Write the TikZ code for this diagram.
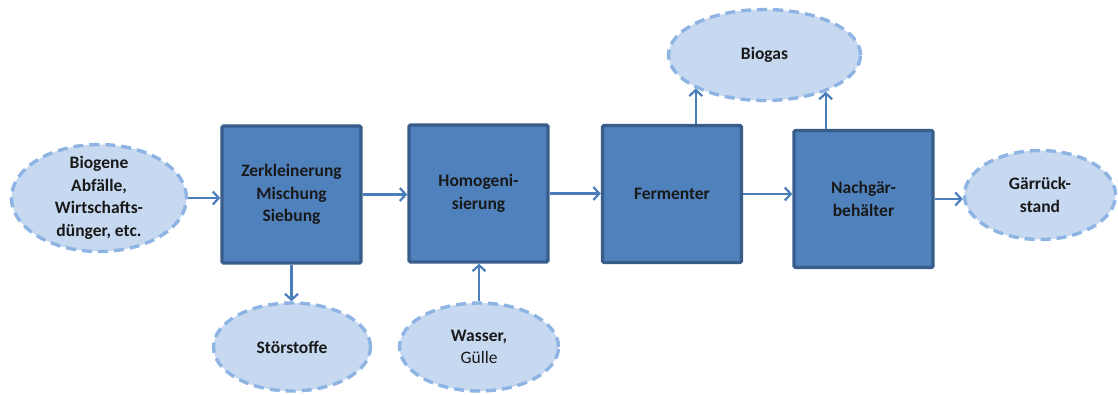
\documentclass[tikz,border=0pt]{standalone}
\usepackage{fontspec}
\setmainfont{Carlito}
\usetikzlibrary{shapes.geometric,arrows.meta}
\definecolor{boxfill}{HTML}{4F81BD}
\definecolor{boxline}{HTML}{385D8A}
\definecolor{ellfill}{HTML}{C6D9F1}
\definecolor{ellline}{HTML}{8EB4E3}
\definecolor{arr}{HTML}{4A7EBB}
\begin{document}
\begin{tikzpicture}[x=1pt,y=-1pt,
  proc/.style={draw=boxline, fill=boxfill, line width=3.4pt, rounded corners=1.5pt,
    minimum width=139pt, minimum height=137pt, inner sep=0pt},
  io/.style={ellipse, draw=ellline, fill=ellfill, line width=3.4pt,
    dash pattern=on 10pt off 6pt, inner sep=0pt},
  txt/.style={font=\fontsize{17.5}{22.5}\selectfont\bfseries, align=center, text=black!90, inner sep=0pt},
  flow/.style={draw=arr, line width=2.4pt, -{Straight Barb[length=6pt,width=13pt,line width=2.2pt]}}]
\useasboundingbox (0,0) rectangle (1118,394);

% process boxes
\node[proc] (b1) at (291.5,194.5) {};
\node[proc] (b2) at (478.5,193.5) {};
\node[proc] (b3) at (672,194) {};
\node[proc] (b4) at (863.5,199) {};
\node[txt] (t1) at (b1) {Zerkleinerung\\Mischung\\Siebung};
\node[txt] (t2) at (b2) {Homogeni-\\sierung};
\node[txt] (t3) at (b3) {Fermenter};
\node[txt] (t4) at (b4) {Nachgär-\\behälter};

% ellipses
\node[io, minimum width=175pt, minimum height=107pt] (src) at (99,198) {};
\node[txt] (tsrc) at (src) {Biogene\\Abfälle,\\Wirtschafts-\\dünger, etc.};
\node[io, minimum width=157pt, minimum height=88pt] (st) at (292,347) {};
\node[txt] (tst) at (st) {Störstoffe};
\node[io, minimum width=159pt, minimum height=88pt] (wa) at (479,347) {};
\node[txt] (twa) at (wa) {Wasser,\\\mdseries Gülle};
\node[io, minimum width=192pt, minimum height=91pt] (bio) at (764.5,55) {};
\node[txt] (tbio) at (bio) {Biogas};
\node[io, minimum width=151pt, minimum height=89pt] (gr) at (1040,195) {};
\node[txt] (tgr) at (gr) {Gärrück-\\stand};

% connectors
\draw[flow] (src.east) -- (src.east -| b1.west);
\draw[flow] (b1.east) -- (b1.east -| b2.west);
\draw[flow] (b2.east) -- (b2.east -| b3.west);
\draw[flow] (b3.east) -- (b3.east -| b4.west);
\draw[flow] (b4.east) -- (b4.east -| gr.west);
\draw[flow] (b1.south) -- (b1.south |- st.north);
\draw[flow] (wa.north) -- (wa.north |- b2.south);
\draw[flow] (bio.206 |- b3.north) -- (bio.206);
\draw[flow] (bio.329 |- b4.north) -- (bio.329);
\end{tikzpicture}
\end{document}
